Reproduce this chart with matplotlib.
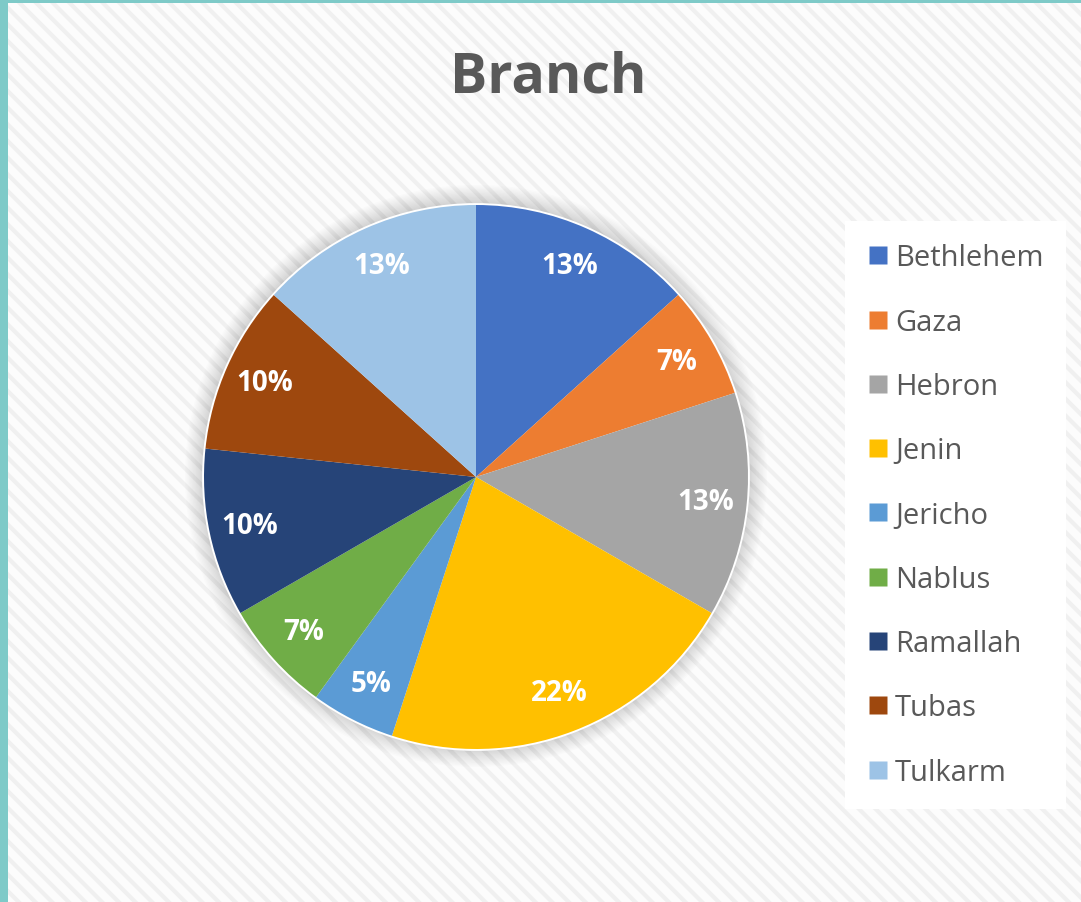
import matplotlib.pyplot as plt
from matplotlib.patches import Rectangle, Circle
from matplotlib.lines import Line2D

# dados do grafico
branches = ['Bethlehem', 'Gaza', 'Hebron', 'Jenin', 'Jericho', 'Nablus', 'Ramallah', 'Tubas', 'Tulkarm']
counts = [8, 4, 8, 13, 3, 4, 6, 6, 8]
cores = ['#4472C4', '#ED7D31', '#A5A5A5', '#FFC000', '#5B9BD5', '#70AD47', '#264478', '#9E480E', '#9DC3E6']

W, H = 1081, 903
plt.rcParams['hatch.linewidth'] = 3.0
plt.rcParams['hatch.color'] = '#f0f0f0'

fig = plt.figure(figsize=(W / 100, H / 100), dpi=100)
fig.patch.set_facecolor('#fcfcfc')

# fundo com listras diagonais
fig.patches.append(Rectangle((0, 0), 1, 1, transform=fig.transFigure, facecolor='#fcfcfc',
                             edgecolor='#f0f0f0', hatch='\\\\', linewidth=0, zorder=-10))
# borda turquesa
fig.patches.append(Rectangle((0, 0), 8 / W, 1, transform=fig.transFigure, facecolor='#7ecac8',
                             edgecolor='none', zorder=-5))
fig.patches.append(Rectangle((0, 1 - 4 / H), 1, 4 / H, transform=fig.transFigure, facecolor='#7ecac8',
                             edgecolor='none', zorder=-5))

cx, cy, r = 476, 478, 272
ax = fig.add_axes([(cx - r) / W, (H - cy - r) / H, 2 * r / W, 2 * r / H])
ax.patch.set_visible(False)

# sombra suave
for k in range(14):
    sombra = Circle((0, 0.004), 1.0 + 0.005 * (k + 1), facecolor='#000000', alpha=0.011,
                    edgecolor='none', zorder=0)
    sombra.set_clip_on(False)
    ax.add_patch(sombra)
borda = Circle((0, 0), 1.007, facecolor='white', edgecolor='none', zorder=0.5)
borda.set_clip_on(False)
ax.add_patch(borda)

wedges, texts, autotexts = ax.pie(counts, colors=cores, startangle=90, counterclock=False,
                                  autopct='%.0f%%', pctdistance=0.85, radius=1.0,
                                  wedgeprops=dict(linewidth=0, zorder=1),
                                  textprops=dict(color='white', fontsize=20, fontweight='bold',
                                                 family='Open Sans'))
ax.set_xlim(-1, 1)
ax.set_ylim(-1, 1)
ax.set_aspect('equal')
ax.axis('off')

fig.text(548 / W, 1 - 78 / H, 'Branch', ha='center', va='center', fontsize=40,
         fontweight='bold', color='#595959', family='Open Sans')

handles = [Line2D([], [], marker='s', linestyle='none', markersize=13, markerfacecolor=c,
                  markeredgecolor='none') for c in cores]
leg = fig.legend(handles, branches, loc='upper left', bbox_to_anchor=(845 / W, 1 - 222 / H),
                 frameon=True, fontsize=21, labelspacing=1.21, handlelength=0.7,
                 handletextpad=0.25, borderpad=0.77, borderaxespad=0)
leg.get_frame().set_facecolor('white')
leg.get_frame().set_edgecolor('none')
leg.get_frame().set_alpha(1)
leg.get_frame().set_boxstyle('square', pad=0)
for t in leg.get_texts():
    t.set_color('#595959')
    t.set_family('Open Sans')

fig.savefig('out.png', dpi=100, facecolor=fig.get_facecolor())
